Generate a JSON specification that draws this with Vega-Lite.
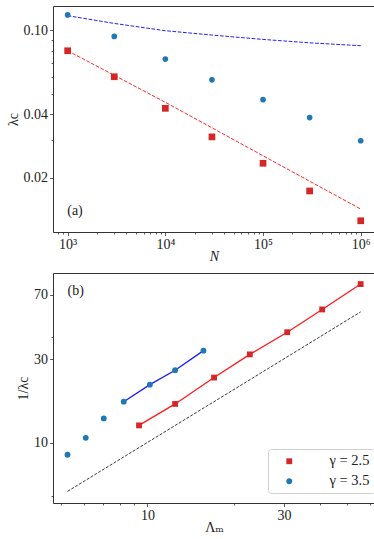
{
  "$schema": "https://vega.github.io/schema/vega-lite/v6.json",
  "padding": {"left": 5, "top": 5, "right": 5, "bottom": 0},
  "spacing": 8,
  "resolve": {"legend": {"color": "independent", "shape": "independent"}},
  "config": {
    "font": "Liberation Serif, DejaVu Serif, serif",
    "view": {"stroke": "#333", "strokeWidth": 1},
    "axis": {
      "domain": false, "grid": false, "tickColor": "#333", "tickWidth": 0.8,
      "labelColor": "#222", "titleColor": "#222", "labelFontSize": 14, "titleFontSize": 14,
      "titleFontWeight": "normal", "labelFont": "Liberation Serif, DejaVu Serif, serif", "titleFont": "Liberation Serif, DejaVu Serif, serif",
      "labelPadding": 2, "titlePadding": 3, "labelOverlap": false, "labelFlush": false, "labelBound": false
    },
    "axisX": {"titlePadding": -2},
    "legend": {
      "labelFont": "Liberation Serif, DejaVu Serif, serif", "labelFontSize": 14.5, "labelColor": "#222",
      "fillColor": "white", "strokeColor": "#d0d0d0", "cornerRadius": 3, "padding": 5,
      "symbolOffset": 9, "labelOffset": 33, "rowPadding": 5, "symbolSize": 34, "symbolStrokeWidth": 0
    }
  },
  "datasets": {
    "a_pts": [
      {"N": 1000, "lam": 0.118, "g": "b"}, {"N": 3000, "lam": 0.0933, "g": "b"},
      {"N": 10000, "lam": 0.0729, "g": "b"}, {"N": 30000, "lam": 0.0581, "g": "b"},
      {"N": 100000, "lam": 0.0468, "g": "b"}, {"N": 300000, "lam": 0.0385, "g": "b"},
      {"N": 1000000, "lam": 0.0299, "g": "b"},
      {"N": 1000, "lam": 0.0798, "g": "r"}, {"N": 3000, "lam": 0.0601, "g": "r"},
      {"N": 10000, "lam": 0.0426, "g": "r"}, {"N": 30000, "lam": 0.0312, "g": "r"},
      {"N": 100000, "lam": 0.0234, "g": "r"}, {"N": 300000, "lam": 0.0173, "g": "r"},
      {"N": 1000000, "lam": 0.0125, "g": "r"}
    ],
    "a_fit": [
      {"N": 1000, "lam": 0.0798, "g": "r"}, {"N": 10000, "lam": 0.0455, "g": "r"},
      {"N": 100000, "lam": 0.0254, "g": "r"}, {"N": 1000000, "lam": 0.0142, "g": "r"},
      {"N": 1000, "lam": 0.117, "g": "b"}, {"N": 3000, "lam": 0.1075, "g": "b"},
      {"N": 10000, "lam": 0.0993, "g": "b"}, {"N": 30000, "lam": 0.0947, "g": "b"},
      {"N": 100000, "lam": 0.0903, "g": "b"}, {"N": 300000, "lam": 0.087, "g": "b"},
      {"N": 1000000, "lam": 0.0843, "g": "b"}
    ],
    "b_pts": [
      {"L": 5.26, "inv": 8.57, "g": "γ = 3.5", "ln": false},
      {"L": 6.09, "inv": 10.7, "g": "γ = 3.5", "ln": false},
      {"L": 7.04, "inv": 13.8, "g": "γ = 3.5", "ln": false},
      {"L": 8.27, "inv": 17.2, "g": "γ = 3.5", "ln": true},
      {"L": 10.2, "inv": 21.5, "g": "γ = 3.5", "ln": true},
      {"L": 12.5, "inv": 26.0, "g": "γ = 3.5", "ln": true},
      {"L": 15.7, "inv": 33.6, "g": "γ = 3.5", "ln": true},
      {"L": 9.35, "inv": 12.6, "g": "γ = 2.5", "ln": true},
      {"L": 12.5, "inv": 16.7, "g": "γ = 2.5", "ln": true},
      {"L": 17.1, "inv": 23.6, "g": "γ = 2.5", "ln": true},
      {"L": 22.8, "inv": 32.0, "g": "γ = 2.5", "ln": true},
      {"L": 30.8, "inv": 42.8, "g": "γ = 2.5", "ln": true},
      {"L": 40.8, "inv": 57.7, "g": "γ = 2.5", "ln": true},
      {"L": 55.6, "inv": 80.5, "g": "γ = 2.5", "ln": true}
    ],
    "b_diag": [
      {"L": 5.26, "inv": 5.3}, {"L": 55.6, "inv": 55.9}
    ]
  },
  "vconcat": [
    {
      "width": 322, "height": 226,
      "encoding": {
        "x": {
          "field": "N", "type": "quantitative",
          "scale": {"type": "log", "domain": [708, 1400000], "nice": false},
          "axis": {
            "title": "N", "titleFontStyle": "italic",
            "values": [800, 900, 1000, 2000, 3000, 4000, 5000, 6000, 7000, 8000, 9000, 10000, 20000, 30000, 40000, 50000, 60000, 70000, 80000, 90000, 100000, 200000, 300000, 400000, 500000, 600000, 700000, 800000, 900000, 1000000],
            "labelExpr": "datum.value == 1000 ? '10³' : datum.value == 10000 ? '10⁴' : datum.value == 100000 ? '10⁵' : datum.value == 1000000 ? '10⁶' : ''",
            "tickSize": {"condition": {"test": "datum.value == 1000 || datum.value == 10000 || datum.value == 100000 || datum.value == 1000000", "value": 3.5}, "value": 2}
          }
        },
        "y": {
          "field": "lam", "type": "quantitative",
          "scale": {"type": "log", "domain": [0.01106, 0.130], "nice": false},
          "axis": {
            "title": "λc",
            "values": [0.02, 0.03, 0.04, 0.05, 0.06, 0.07, 0.08, 0.09, 0.1],
            "labelExpr": "(datum.value == 0.02 || datum.value == 0.04 || datum.value == 0.1) ? format(datum.value, '.2f') : ''",
            "tickSize": {"condition": {"test": "datum.value == 0.02 || datum.value == 0.04 || datum.value == 0.1", "value": 3.5}, "value": 2}
          }
        }
      },
      "layer": [
        {
          "data": {"name": "a_fit"},
          "transform": [{"filter": "datum.g == 'r'"}],
          "mark": {"type": "line", "color": "#ff2a2a", "strokeWidth": 1, "strokeDash": [3.7, 1.6]}
        },
        {
          "data": {"name": "a_fit"},
          "transform": [{"filter": "datum.g == 'b'"}],
          "mark": {"type": "line", "color": "#2020ff", "strokeWidth": 1, "strokeDash": [3.7, 1.6]}
        },
        {
          "data": {"name": "a_pts"},
          "transform": [{"filter": "datum.g == 'r'"}],
          "mark": {"type": "square", "color": "#d62728", "opacity": 1, "size": 45}
        },
        {
          "data": {"name": "a_pts"},
          "transform": [{"filter": "datum.g == 'b'"}],
          "mark": {"type": "circle", "color": "#1f77b4", "opacity": 1, "size": 32}
        },
        {
          "data": {"values": [{"N": 990, "lam": 0.0139, "t": "(a)"}]},
          "mark": {"type": "text", "align": "left", "baseline": "middle", "fontSize": 14, "color": "#222"},
          "encoding": {"text": {"field": "t"}}
        }
      ]
    },
    {
      "width": 322, "height": 230,
      "encoding": {
        "x": {
          "field": "L", "type": "quantitative",
          "scale": {"type": "log", "domain": [4.68, 62.4], "nice": false},
          "axis": {
            "title": "Λₘ",
            "values": [5, 6, 7, 8, 9, 10, 20, 30, 40, 50, 60],
            "labelExpr": "(datum.value == 10 || datum.value == 30) ? format(datum.value, 'd') : ''",
            "tickSize": {"condition": {"test": "datum.value == 10 || datum.value == 30", "value": 3.5}, "value": 2}
          }
        },
        "y": {
          "field": "inv", "type": "quantitative",
          "scale": {"type": "log", "domain": [4.55, 93.1], "nice": false},
          "axis": {
            "title": "1/λc",
            "values": [5, 10, 30, 40, 70],
            "labelExpr": "(datum.value == 10 || datum.value == 30 || datum.value == 70) ? format(datum.value, 'd') : ''",
            "tickSize": {"condition": {"test": "datum.value == 10 || datum.value == 30 || datum.value == 70", "value": 3.5}, "value": 2}
          }
        }
      },
      "layer": [
        {
          "data": {"name": "b_diag"},
          "mark": {"type": "line", "color": "#222", "strokeWidth": 0.9, "strokeDash": [3, 1.5]}
        },
        {
          "data": {"name": "b_pts"},
          "transform": [{"filter": "datum.g == 'γ = 2.5'"}],
          "mark": {"type": "line", "color": "#ff1a1a", "strokeWidth": 1.3}
        },
        {
          "data": {"name": "b_pts"},
          "transform": [{"filter": "datum.g == 'γ = 3.5' && datum.ln"}],
          "mark": {"type": "line", "color": "#1a1aff", "strokeWidth": 1.3}
        },
        {
          "data": {"name": "b_pts"},
          "mark": {"type": "point", "filled": true, "opacity": 1, "size": 34},
          "encoding": {
            "color": {
              "field": "g", "type": "nominal",
              "scale": {"domain": ["γ = 2.5", "γ = 3.5"], "range": ["#d62728", "#1f77b4"]},
              "legend": {"title": null, "orient": "none", "legendX": 215, "legendY": 176}
            },
            "shape": {
              "field": "g", "type": "nominal",
              "scale": {"domain": ["γ = 2.5", "γ = 3.5"], "range": ["square", "circle"]},
              "legend": {"title": null, "orient": "none", "legendX": 215, "legendY": 176}
            }
          }
        },
        {
          "data": {"values": [{"L": 5.26, "inv": 73.5, "t": "(b)"}]},
          "mark": {"type": "text", "align": "left", "baseline": "middle", "fontSize": 14, "color": "#222"},
          "encoding": {"text": {"field": "t"}}
        }
      ]
    }
  ]
}
